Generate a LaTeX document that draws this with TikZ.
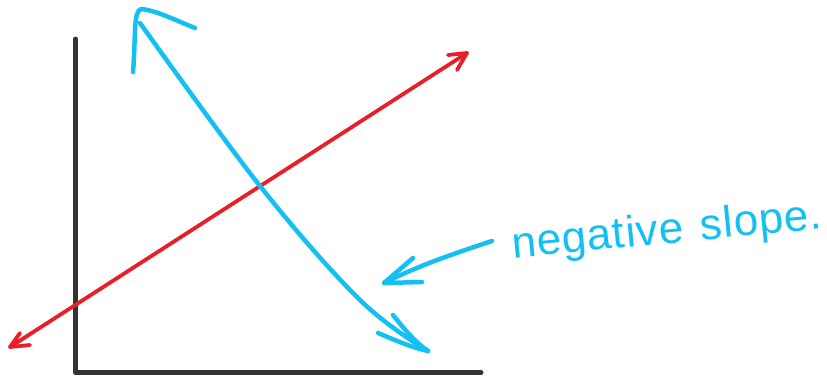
\documentclass[tikz,border=0pt]{standalone}
\usepackage{fontspec}
\newfontfamily\hand[LetterSpace=2]{Liberation Sans}
\definecolor{pencyan}{RGB}{20,192,243}
\definecolor{penred}{RGB}{234,30,40}
\definecolor{axisgray}{RGB}{51,51,51}
\begin{document}
\begin{tikzpicture}[x=1pt,y=-1pt,
  axisline/.style={draw=axisgray,line width=5pt,line cap=round,line join=round},
  redpen/.style={draw=penred,line width=3.8pt,line cap=round,line join=round},
  cyanpen/.style={draw=pencyan,line width=4.5pt,line cap=round,line join=round},
  labeltext/.style={text=pencyan,font=\hand\fontsize{44}{50}\selectfont,inner sep=0pt}]
\useasboundingbox (0,0) rectangle (827,376);
% axes
\coordinate (ytop) at (75.5,39);
\coordinate (origin) at (75.5,372.5);
\coordinate (xend) at (481,372.5);
\draw[axisline] (ytop) -- (origin) -- (xend);
% red line
\coordinate (rA) at (10,347);
\coordinate (rB) at (467,53);
\draw[redpen] (rA) -- (rB);
\draw[redpen] (448,55) -- (rB) -- (457,70);
\draw[redpen] (20,333) -- (rA) -- (30,345);
% cyan line
\coordinate (cA) at (140,23);
\coordinate (cB) at (428,351);
\draw[cyanpen] plot[smooth,tension=0.6] coordinates {(cA) (260,186) (360,300) (cB)};
\draw[cyanpen] (133,72) .. controls (136,35) and (133,12) .. (141,9) .. controls (155,10) and (175,20) .. (195,28);
\draw[cyanpen] (393,315) .. controls (405,330) and (415,342) .. (cB);
\draw[cyanpen] (378,333) .. controls (395,340) and (410,347) .. (cB);
% pointer arrow
\coordinate (pA) at (492,241);
\coordinate (pB) at (384,283);
\draw[cyanpen] (pA) .. controls (450,255) and (420,265) .. (pB);
\draw[cyanpen] (413,258) -- (pB) -- (422,282);
% label
\node[labeltext,rotate=5.5] (lbl) at (667,232) {negative\hspace{4pt} slope.};
\end{tikzpicture}
\end{document}
